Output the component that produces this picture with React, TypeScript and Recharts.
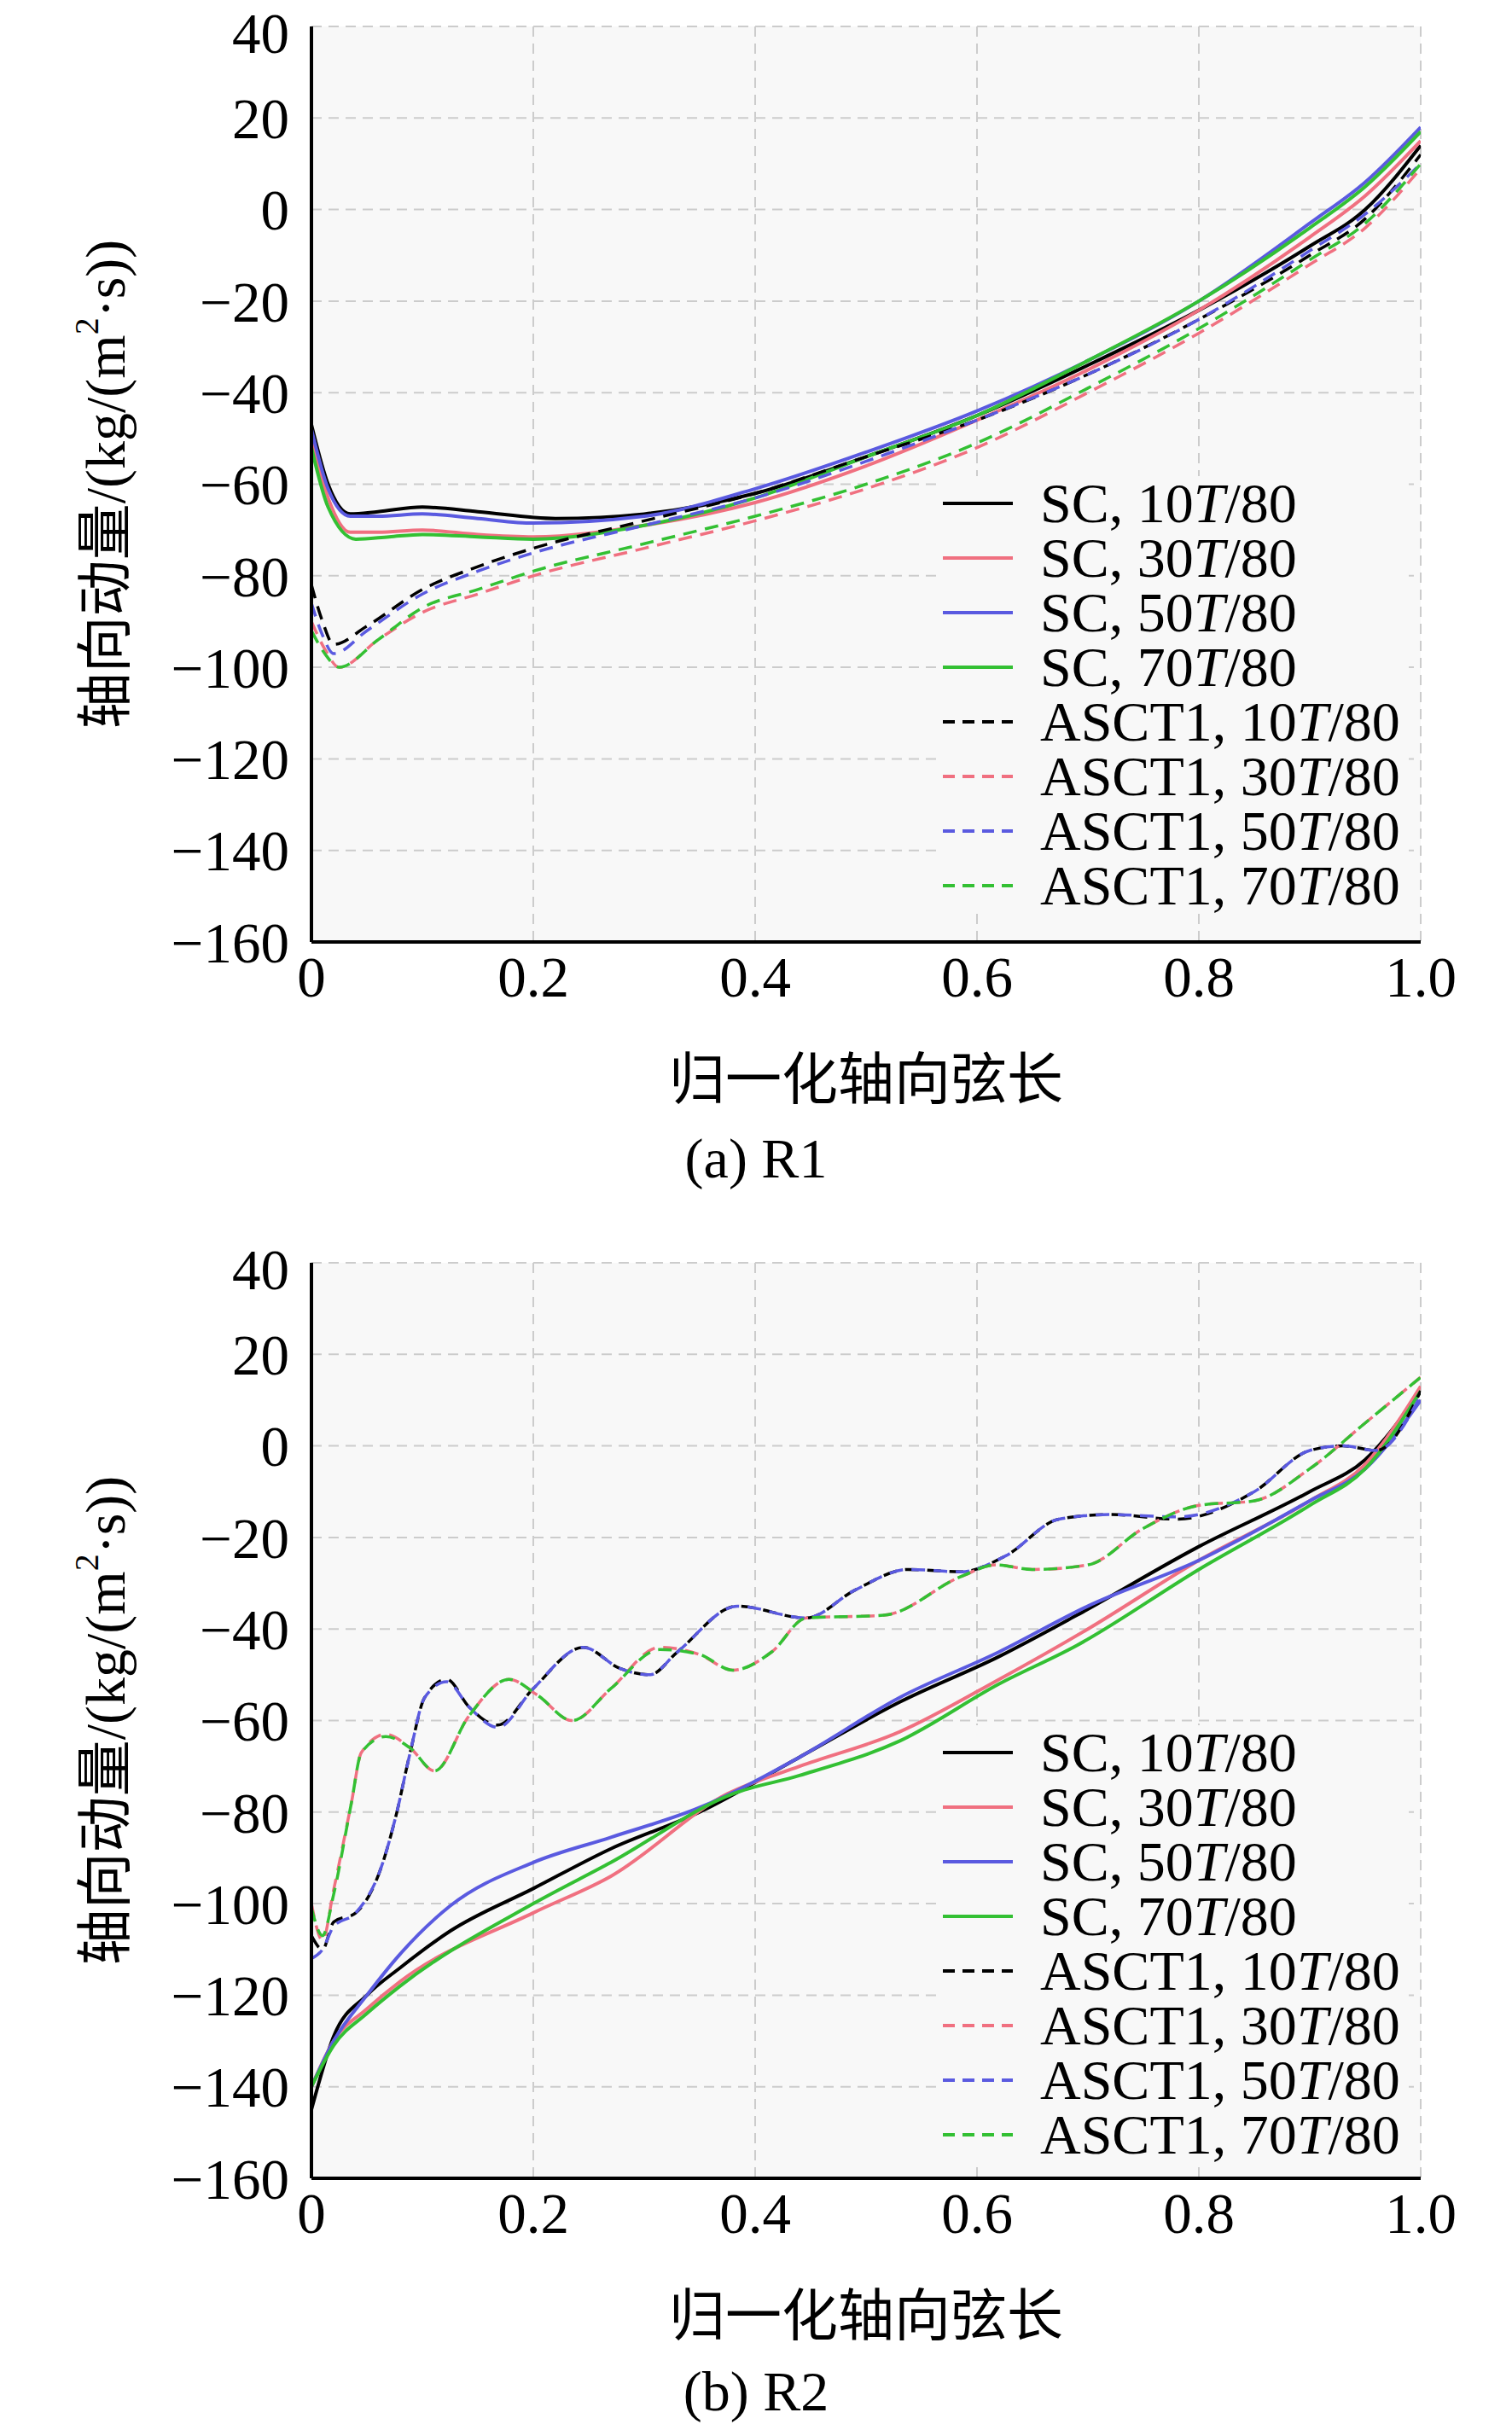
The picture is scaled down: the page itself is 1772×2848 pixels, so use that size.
import React from 'react';
import { ComposedChart, Line, XAxis, YAxis, CartesianGrid } from 'recharts';

const xTicks = [0, 0.2, 0.4, 0.6, 0.8, 1.0];
const yTicks = [-160, -140, -120, -100, -80, -60, -40, -20, 0, 20, 40];

// R1
const r1_sc10 = [[0,-47],[0.015,-60],[0.035,-66.5],[0.06,-66],[0.1,-65],[0.15,-66],[0.22,-67.5],[0.3,-66.5],[0.4,-62],[0.5,-54],[0.6,-45],[0.7,-34],[0.8,-22],[0.9,-8],[0.95,0],[1.0,14]];
const r1_sc30 = [[0,-50],[0.015,-63],[0.035,-70.5],[0.06,-70.5],[0.1,-70],[0.15,-71],[0.2,-71.5],[0.3,-69],[0.4,-64],[0.5,-56],[0.6,-46],[0.7,-35],[0.8,-22],[0.9,-6],[0.95,3],[1.0,15]];
const r1_sc50 = [[0,-48],[0.015,-61],[0.035,-67],[0.06,-67],[0.1,-66.5],[0.15,-67.5],[0.2,-68.5],[0.3,-67],[0.4,-61],[0.5,-53],[0.6,-44],[0.7,-33],[0.8,-20],[0.9,-3],[0.95,6],[1.0,18]];
const r1_sc70 = [[0,-52],[0.015,-65],[0.04,-72],[0.07,-71.5],[0.1,-71],[0.15,-71.5],[0.2,-72],[0.3,-69],[0.4,-63],[0.5,-54],[0.6,-45],[0.7,-33],[0.8,-20],[0.9,-4],[0.95,5],[1.0,17]];
const r1_a10 = [[0,-82],[0.01,-90],[0.02,-95],[0.05,-91],[0.1,-83],[0.15,-78],[0.2,-74],[0.3,-68],[0.4,-62],[0.5,-54],[0.6,-46],[0.7,-36],[0.8,-24],[0.9,-10],[0.95,-2],[1.0,12]];
const r1_a30 = [[0,-90],[0.012,-96],[0.025,-100],[0.06,-94],[0.1,-88],[0.15,-84],[0.2,-80],[0.3,-74],[0.4,-68],[0.5,-61],[0.6,-52],[0.7,-40],[0.8,-27],[0.9,-12],[0.95,-4],[1.0,9]];
const r1_a50 = [[0,-86],[0.01,-93],[0.02,-97],[0.05,-92],[0.1,-84],[0.15,-79],[0.2,-75],[0.3,-69],[0.4,-63],[0.5,-55],[0.6,-46],[0.7,-36],[0.8,-24],[0.9,-9],[0.95,-1],[1.0,10]];
const r1_a70 = [[0,-92],[0.012,-97],[0.025,-100],[0.06,-94],[0.1,-87],[0.15,-83],[0.2,-79],[0.3,-73],[0.4,-67],[0.5,-60],[0.6,-51],[0.7,-39],[0.8,-26],[0.9,-11],[0.95,-3],[1.0,10]];

// R2
const r2_sc10 = [[0,-145],[0.02,-129],[0.05,-120],[0.08,-114],[0.125,-106],[0.2,-96.7],[0.27,-88],[0.35,-80],[0.44,-68],[0.53,-56],[0.62,-46],[0.69,-37],[0.8,-22],[0.9,-10],[0.95,-3],[1.0,12]];
const r2_sc30 = [[0,-140],[0.02,-130],[0.05,-123],[0.08,-117],[0.2,-102],[0.27,-94],[0.375,-76],[0.44,-70],[0.53,-62.5],[0.62,-51],[0.7,-40],[0.8,-25],[0.9,-12],[0.95,-4],[1.0,13]];
const r2_sc50 = [[0,-140],[0.02,-130],[0.05,-120],[0.08,-111],[0.125,-100.5],[0.2,-91],[0.27,-85.5],[0.35,-79],[0.44,-68],[0.53,-55],[0.62,-45],[0.7,-35],[0.8,-25],[0.9,-12],[0.95,-5],[1.0,10]];
const r2_sc70 = [[0,-140],[0.02,-131],[0.05,-124],[0.08,-118],[0.2,-100],[0.27,-91],[0.38,-76],[0.44,-72],[0.53,-64.5],[0.62,-52],[0.69,-43.6],[0.8,-27],[0.9,-13],[0.95,-5],[1.0,12]];
const r2_a10 = [[0,-107],[0.01,-110],[0.02,-104],[0.04,-102],[0.063,-92],[0.076,-81],[0.089,-67],[0.102,-55],[0.122,-51],[0.142,-57],[0.168,-61],[0.2,-53],[0.245,-44],[0.278,-48.6],[0.305,-50],[0.33,-45],[0.384,-35],[0.446,-37.6],[0.49,-31.5],[0.538,-27],[0.586,-27.5],[0.626,-24],[0.674,-16],[0.72,-15],[0.78,-16],[0.85,-10],[0.9,-1],[0.93,0],[0.96,-1],[1.0,12]];
const r2_a30 = [[0,-100],[0.01,-108],[0.02,-97],[0.036,-78],[0.045,-67],[0.067,-63],[0.089,-66],[0.111,-71],[0.142,-59],[0.178,-51],[0.204,-54.5],[0.235,-60],[0.27,-53],[0.314,-44],[0.349,-45.5],[0.38,-49],[0.415,-45],[0.446,-37.6],[0.516,-37],[0.586,-28.5],[0.617,-26],[0.65,-27],[0.7,-26],[0.75,-18],[0.8,-13],[0.85,-12],[0.9,-5],[0.95,5],[1.0,15]];
const r2_a50 = [[0,-112],[0.01,-110],[0.02,-105],[0.04,-102],[0.063,-92],[0.076,-81],[0.089,-67],[0.102,-55],[0.122,-51.5],[0.142,-57],[0.168,-61.5],[0.2,-53],[0.245,-44],[0.278,-48.6],[0.305,-50],[0.33,-45],[0.384,-35],[0.446,-37.6],[0.49,-31.5],[0.538,-27],[0.586,-27.5],[0.626,-24],[0.674,-16],[0.72,-15],[0.78,-15.5],[0.85,-10],[0.9,-1],[0.93,0],[0.96,-1],[1.0,11]];
const r2_a70 = [[0,-101],[0.01,-107],[0.02,-98],[0.036,-78],[0.045,-67],[0.067,-63.5],[0.089,-66],[0.111,-71],[0.142,-59],[0.178,-51],[0.204,-54.5],[0.235,-60],[0.27,-53],[0.314,-44.5],[0.349,-45.5],[0.38,-49],[0.415,-45],[0.446,-37.6],[0.516,-37],[0.586,-28.5],[0.617,-26],[0.65,-27],[0.7,-26],[0.75,-18],[0.8,-13],[0.85,-12],[0.9,-5],[0.95,5],[1.0,15]];

const colors = { k: '#000000', p: '#f07080', b: '#5a5ae0', g: '#33c033' };
const legendNames = ['SC, 10', 'SC, 30', 'SC, 50', 'SC, 70', 'ASCT1, 10', 'ASCT1, 30', 'ASCT1, 50', 'ASCT1, 70'];
const legendColors = [colors.k, colors.p, colors.b, colors.g, colors.k, colors.p, colors.b, colors.g];

const toPts = (a: number[][]) => a.map(([x, y]) => ({ x, y }));
const FONT = '"Liberation Serif", "Times New Roman", serif';
const CJK = '"Liberation Serif", "Noto Sans CJK SC", serif';

const LegendBox = ({ top }: { top: number }) => (
  <div style={{ position: 'absolute', left: 1105, top, fontFamily: FONT, fontSize: 66, color: '#000', background: '#f8f8f8' }}>
    {legendNames.map((n, i) => (
      <div key={i} style={{ display: 'flex', alignItems: 'center', height: 64, paddingRight: 10 }}>
        <svg width={82} height={10} style={{ marginRight: 32 }}>
          <line x1={0} y1={5} x2={82} y2={5} stroke={legendColors[i]} strokeWidth={4} strokeDasharray={i >= 4 ? '14 9' : undefined} />
        </svg>
        <span style={{ whiteSpace: 'nowrap' }}>{n}<i>T</i>/80</span>
      </div>
    ))}
  </div>
);

const YLabel = (props: any) => {
  const vb = props.viewBox || {};
  const cx = 123;
  const cy = vb.y + vb.height / 2;
  return (
    <text x={cx} y={cy} transform={`rotate(-90 ${cx} ${cy})`} textAnchor="middle" dominantBaseline="central"
      style={{ fontFamily: CJK, fontSize: 66 }} fill="#000">
      <tspan>轴向动量/(kg/(m</tspan><tspan dy={-22} fontSize={40}>2</tspan><tspan dy={22}>·s))</tspan>
    </text>
  );
};

const Panel = ({ series }: { series: number[][][] }) => (
  <ComposedChart width={1772} height={1300} margin={{ top: 31, right: 107, bottom: 0, left: 0 }}>
    <CartesianGrid fill="#f8f8f8" stroke="#cccccc" strokeDasharray="12 8" strokeWidth={2} />
    <XAxis type="number" dataKey="x" domain={[0, 1]} ticks={xTicks} allowDataOverflow
      tickFormatter={(v: number) => (v === 0 ? '0' : v.toFixed(1))}
      tick={{ fontFamily: FONT, fontSize: 67, fill: '#000' }} tickLine={false} tickMargin={10}
      axisLine={{ stroke: '#000', strokeWidth: 4 }} height={196}
      label={{ value: '归一化轴向弦长', position: 'insideBottom', offset: 12, style: { fontFamily: CJK, fontSize: 66, fill: '#000' } }} />
    <XAxis xAxisId="top" type="number" orientation="top" domain={[0, 1]} tick={false} tickLine={false} axisLine={{ stroke: '#000', strokeWidth: 4 }} height={0} />
    <YAxis type="number" domain={[-160, 40]} ticks={yTicks} allowDataOverflow width={365}
      tick={{ fontFamily: FONT, fontSize: 67, fill: '#000' }} tickLine={false} tickMargin={20}
      tickFormatter={(v: number) => (v < 0 ? '\u2212' + Math.abs(v) : String(v))}
      axisLine={{ stroke: '#000', strokeWidth: 4 }} label={<YLabel />} />
    <YAxis yAxisId="right" orientation="right" domain={[-160, 40]} tick={false} tickLine={false} axisLine={{ stroke: '#000', strokeWidth: 4 }} width={0} />
    {series.map((s, i) => (
      <Line key={i} data={toPts(s)} dataKey="y" type="monotone" dot={false} isAnimationActive={false}
        stroke={legendColors[i]} strokeWidth={i >= 4 ? 3.5 : 4} strokeDasharray={i >= 4 ? '16 10' : undefined} />
    ))}
  </ComposedChart>
);

export default function App() {
  const s1 = [r1_sc10, r1_sc30, r1_sc50, r1_sc70, r1_a10, r1_a30, r1_a50, r1_a70];
  const s2 = [r2_sc10, r2_sc30, r2_sc50, r2_sc70, r2_a10, r2_a30, r2_a50, r2_a70];
  const cap = { position: 'absolute' as const, left: 0, width: 1772, textAlign: 'center' as const, fontFamily: FONT, fontSize: 66, color: '#000' };
  return (
    <div style={{ position: 'relative', width: 1772, height: 2848, margin: -8, background: '#fff' }}>
      <div style={{ position: 'absolute', left: 0, top: 0 }}><Panel series={s1} /></div>
      <LegendBox top={558} />
      <div style={{ ...cap, top: 1320 }}>(a) R1</div>
      <div style={{ position: 'absolute', left: 0, top: 1449 }}><Panel series={s2} /></div>
      <LegendBox top={2022} />
      <div style={{ ...cap, top: 2765 }}>(b) R2</div>
    </div>
  );
}
